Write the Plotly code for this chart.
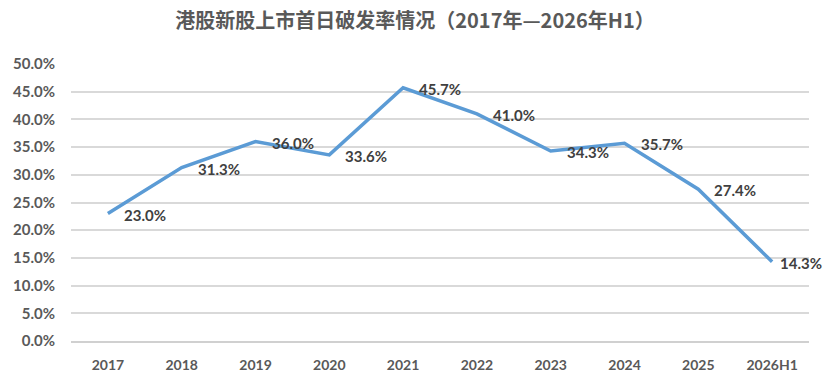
import plotly.graph_objects as go

categories = ["2017", "2018", "2019", "2020", "2021", "2022", "2023", "2024", "2025", "2026H1"]
rates = [23.0, 31.3, 36.0, 33.6, 45.7, 41.0, 34.3, 35.7, 27.4, 14.3]
labels = [f"{v:.1f}%" for v in rates]
yticks = [0, 5, 10, 15, 20, 25, 30, 35, 40, 45, 50]
ytext = [f"{v:.1f}%" for v in yticks]

FONT = "Lato, 'Noto Sans', 'Liberation Sans', sans-serif"
GRAY = "#595959"

fig = go.Figure()
fig.add_trace(go.Scatter(
    x=list(range(len(categories))), y=rates, mode="lines",
    line=dict(color="#5b9bd5", width=3.5),
    hoverinfo="skip",
))

n = len(rates)
for i, (v, t) in enumerate(zip(rates, labels)):
    fig.add_annotation(x=i, y=v, text=f"<b>{t}</b>", showarrow=False,
                       xanchor="left", yanchor="middle",
                       xshift=(6 if i == n - 1 else 14), yshift=-1,
                       font=dict(family=FONT, size=15, color="#404040"))

fig.update_layout(
    width=830, height=389,
    margin=dict(l=71, r=21, t=64, b=48),
    paper_bgcolor="white", plot_bgcolor="white",
    showlegend=False,
    title=dict(text="<b>港股新股上市首日破发率情况（2017年—2026年H1）</b>",
               x=0.5, xanchor="center", y=0.945, yanchor="middle",
               font=dict(family="'Noto Sans CJK SC', sans-serif", size=20, color=GRAY)),
    xaxis=dict(
        range=[-0.5, 9.5], tickmode="array",
        tickvals=list(range(len(categories))),
        ticktext=[f"<b>{c}</b>" for c in categories],
        showgrid=False, zeroline=False,
        showline=True, linecolor="#d0d0d0", linewidth=2,
        ticks="outside", ticklen=10, tickcolor="rgba(0,0,0,0)",
        tickfont=dict(family=FONT, size=14, color=GRAY),
    ),
    yaxis=dict(
        range=[0, 50], tickmode="array", tickvals=yticks, ticktext=[f"<b>{t}</b>" for t in ytext],
        showgrid=True, gridcolor="#d9d9d9", gridwidth=1.5,
        zeroline=False, showline=False,
        ticks="outside", ticklen=12, tickcolor="rgba(0,0,0,0)",
        tickfont=dict(family=FONT, size=15, color=GRAY),
    ),
)

fig.write_html("out.html")
